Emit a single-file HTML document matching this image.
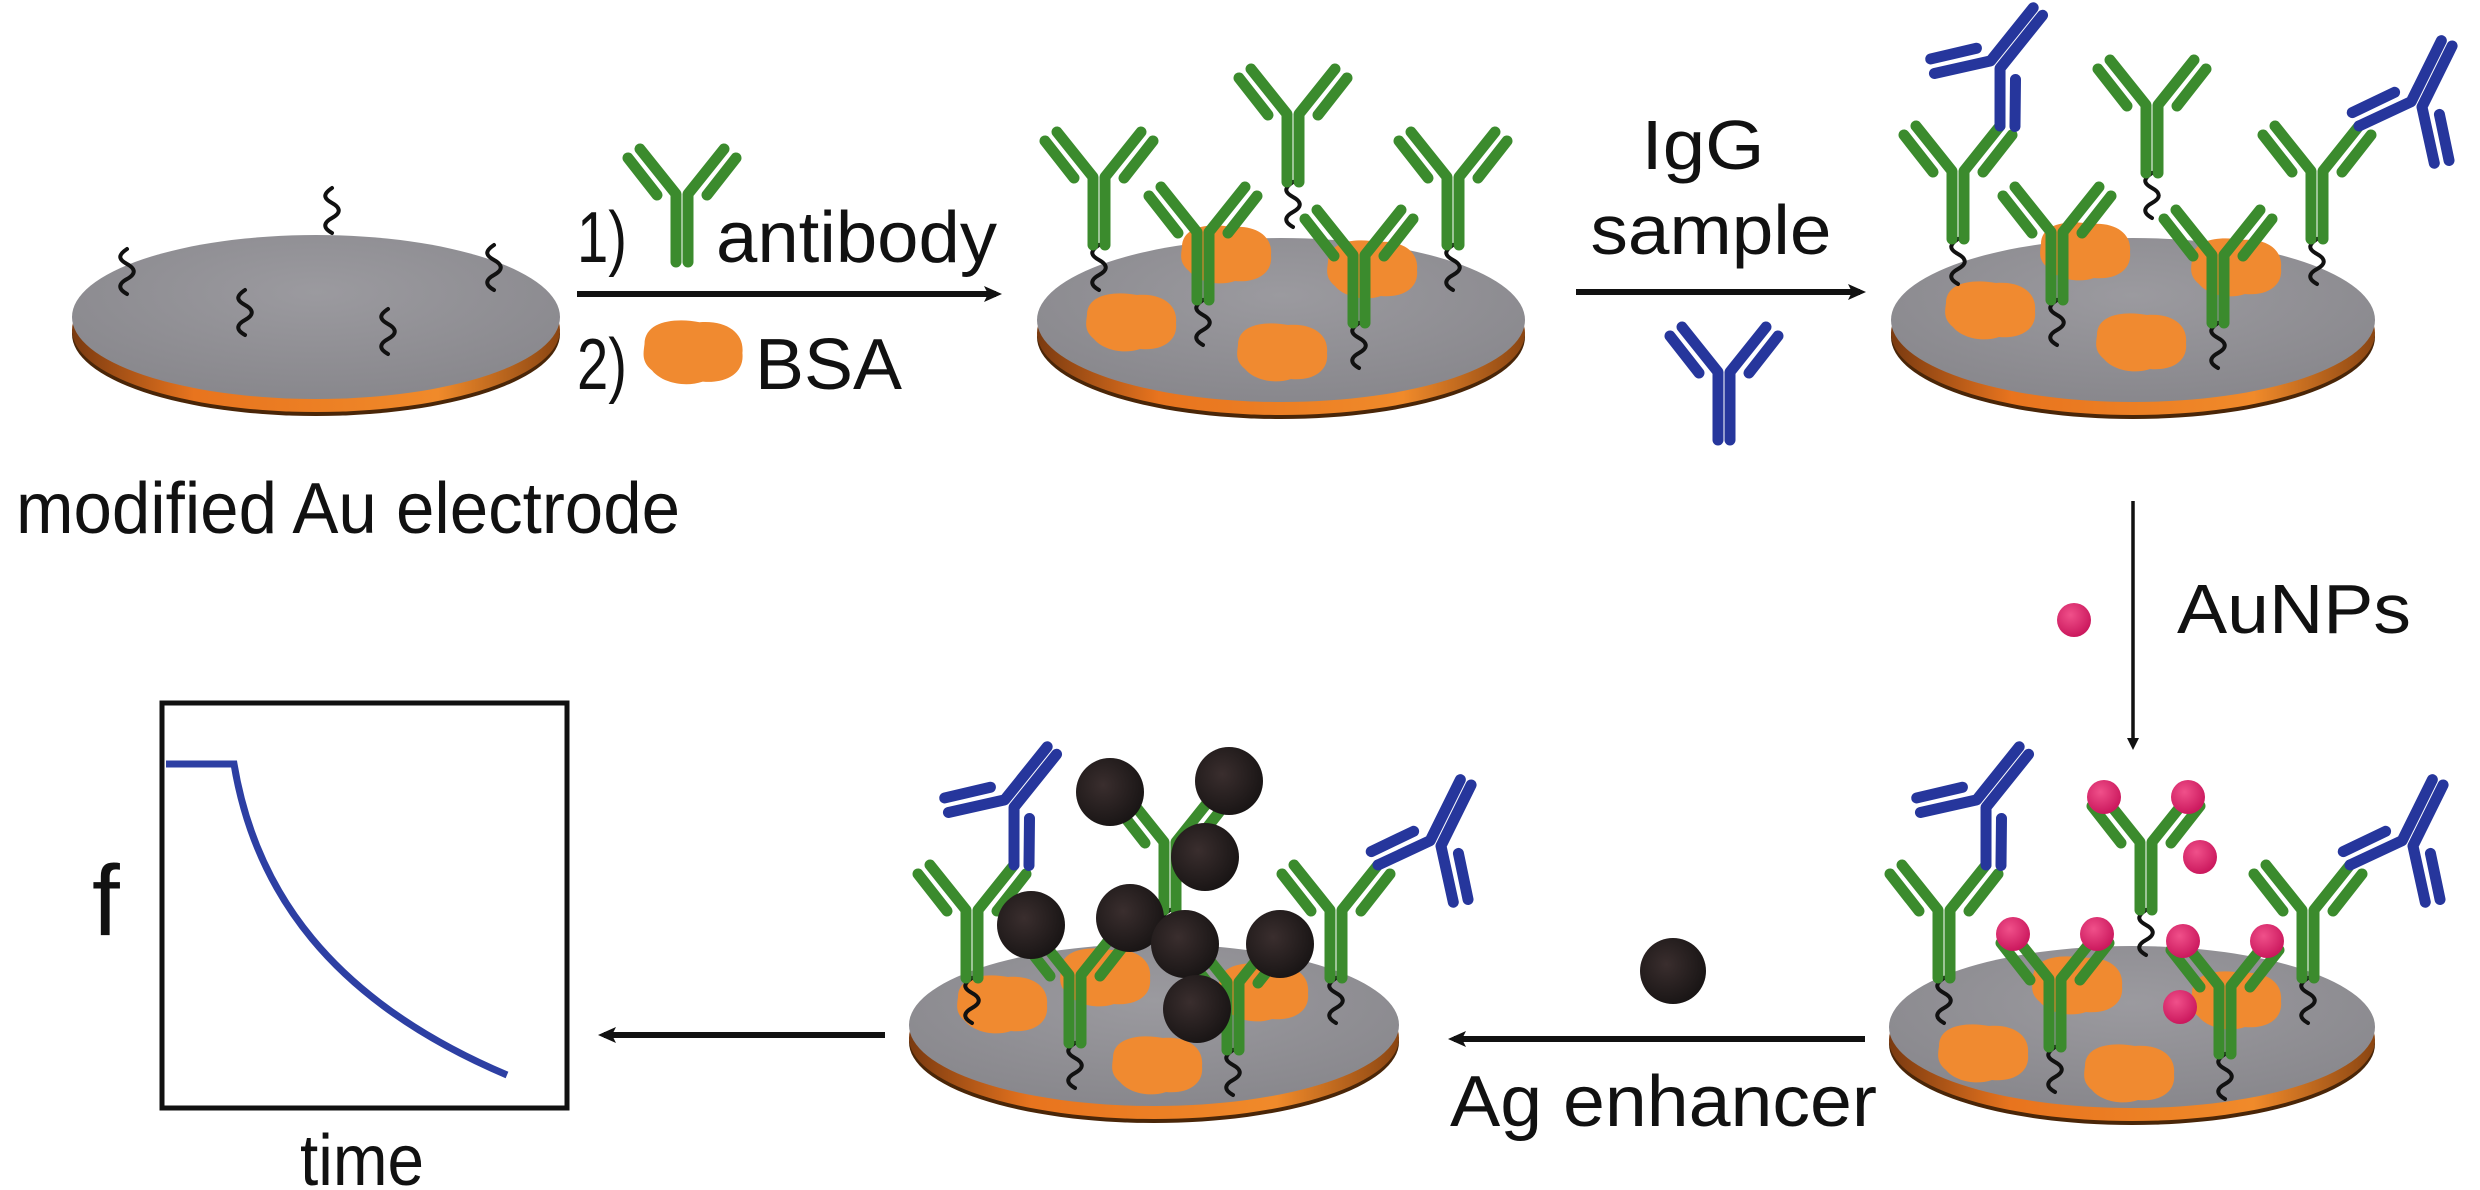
<!DOCTYPE html>
<html><head><meta charset="utf-8"><style>
html,body{margin:0;padding:0;background:#fff;}
svg{display:block;}
text{font-family:"Liberation Sans",Arial,sans-serif;fill:#111;}
</style></head><body>
<svg width="2480" height="1190" viewBox="0 0 2480 1190" xmlns="http://www.w3.org/2000/svg">
<defs>
<linearGradient id="side" x1="0" x2="1" y1="0" y2="0">
<stop offset="0" stop-color="#7a3a10"/><stop offset="0.25" stop-color="#e8741e"/><stop offset="0.75" stop-color="#f08a2a"/><stop offset="1" stop-color="#8a4512"/></linearGradient>
<radialGradient id="top" cx="0.5" cy="0.35" r="0.7"><stop offset="0" stop-color="#9b9a9f"/><stop offset="1" stop-color="#87868b"/></radialGradient>
<radialGradient id="pink" cx="0.4" cy="0.35" r="0.7"><stop offset="0" stop-color="#f0508a"/><stop offset="1" stop-color="#c8145a"/></radialGradient>
<radialGradient id="blk" cx="0.4" cy="0.4" r="0.7"><stop offset="0" stop-color="#3a2e2e"/><stop offset="1" stop-color="#151212"/></radialGradient>
<g id="abG" fill="none" stroke="#3b8b2d" stroke-width="11" stroke-linecap="round" stroke-linejoin="round">
<path d="M-6,0 L-6,-68 L-42,-113"/><path d="M6,0 L6,-68 L42,-113"/>
<path d="M-25,-67 L-54,-104"/><path d="M25,-67 L54,-104"/>
</g>
<g id="abB" fill="none" stroke="#26369c" stroke-width="11" stroke-linecap="round" stroke-linejoin="round">
<path d="M-6,0 L-6,-68 L-42,-113"/><path d="M6,0 L6,-68 L42,-113"/>
<path d="M-25,-67 L-54,-104"/><path d="M25,-67 L54,-104"/>
</g>
<path id="sq" d="M0,0 c-9,6 -9,10 0,15 c9,5 9,10 0,15 c-9,5 -9,10 0,15" fill="none" stroke="#111" stroke-width="4" stroke-linecap="round"/>
<path id="blob" d="M-45,-8 C-45,-30 -15,-32 5,-28 C30,-30 46,-18 44,0 C46,18 30,28 8,26 C-10,32 -30,26 -38,16 C-48,8 -46,0 -45,-8Z" fill="#f08a30"/>
<marker id="ah" markerWidth="18" markerHeight="16" refX="12" refY="8" orient="auto" markerUnits="userSpaceOnUse" viewBox="0 0 18 16"><path d="M0,0 L18,8 L0,16 L4,8Z" fill="#111"/></marker>
<marker id="ahs" markerWidth="12" markerHeight="12" refX="8" refY="6" orient="auto" markerUnits="userSpaceOnUse" viewBox="0 0 12 12"><path d="M0,0 L12,6 L0,12Z" fill="#111"/></marker>
</defs>

<!-- DISC 1 -->
<ellipse cx="316" cy="334" rx="244" ry="82" fill="#4a2608"/>
<ellipse cx="316" cy="330" rx="244" ry="82" fill="url(#side)"/>
<ellipse cx="316" cy="317" rx="244" ry="82" fill="url(#top)"/>
<use href="#sq" x="332" y="188"/><use href="#sq" x="127" y="249"/><use href="#sq" x="494" y="245"/><use href="#sq" x="245" y="290"/><use href="#sq" x="388" y="309"/>

<!-- arrow 1 + labels -->
<line x1="577" y1="294" x2="996" y2="294" stroke="#111" stroke-width="6" marker-end="url(#ah)"/>
<use href="#abG" transform="translate(682,262)"/>
<text x="577" y="262" font-size="72" textLength="50" lengthAdjust="spacingAndGlyphs">1)</text>
<text x="716" y="262" font-size="72" textLength="281" lengthAdjust="spacingAndGlyphs">antibody</text>
<text x="577" y="389" font-size="72" textLength="50" lengthAdjust="spacingAndGlyphs">2)</text>
<g transform="translate(694,353) scale(1.1,1.1)"><use href="#blob"/></g>
<text x="755" y="389" font-size="72" textLength="147" lengthAdjust="spacingAndGlyphs">BSA</text>
<text x="16" y="533" font-size="72" textLength="664" lengthAdjust="spacingAndGlyphs">modified Au electrode</text>

<!-- DISC 2 -->
<ellipse cx="1281" cy="337" rx="244" ry="82" fill="#4a2608"/>
<ellipse cx="1281" cy="333" rx="244" ry="82" fill="url(#side)"/>
<ellipse cx="1281" cy="320" rx="244" ry="82" fill="url(#top)"/>
<use href="#blob" x="1227" y="255"/><use href="#blob" x="1373" y="270"/><use href="#blob" x="1132" y="323"/><use href="#blob" x="1283" y="353"/>
<use href="#sq" x="1293" y="182"/><use href="#abG" x="1293" y="182"/>
<use href="#sq" x="1099" y="245"/><use href="#abG" x="1099" y="245"/>
<use href="#sq" x="1453" y="245"/><use href="#abG" x="1453" y="245"/>
<use href="#sq" x="1203" y="300"/><use href="#abG" x="1203" y="300"/>
<use href="#sq" x="1359" y="323"/><use href="#abG" x="1359" y="323"/>

<!-- arrow 2 -->
<text x="1703" y="169" font-size="70" text-anchor="middle" textLength="123" lengthAdjust="spacingAndGlyphs">IgG</text>
<text x="1711" y="254" font-size="70" text-anchor="middle" textLength="241" lengthAdjust="spacingAndGlyphs">sample</text>
<line x1="1576" y1="292" x2="1860" y2="292" stroke="#111" stroke-width="6" marker-end="url(#ah)"/>
<use href="#abB" x="1724" y="440"/>

<!-- DISC 3 -->
<ellipse cx="2133" cy="337" rx="242" ry="82" fill="#4a2608"/>
<ellipse cx="2133" cy="333" rx="242" ry="82" fill="url(#side)"/>
<ellipse cx="2133" cy="320" rx="242" ry="82" fill="url(#top)"/>
<use href="#blob" x="2086" y="252"/><use href="#blob" x="2237" y="268"/><use href="#blob" x="1991" y="311"/><use href="#blob" x="2142" y="343"/>
<use href="#sq" x="2152" y="173"/><use href="#abG" x="2152" y="173"/>
<use href="#sq" x="1958" y="239"/><use href="#abG" x="1958" y="239"/>
<use href="#sq" x="2317" y="239"/><use href="#abG" x="2317" y="239"/>
<use href="#sq" x="2057" y="300"/><use href="#abG" x="2057" y="300"/>
<use href="#sq" x="2218" y="323"/><use href="#abG" x="2218" y="323"/>
<g transform="translate(2000,126) rotate(218.7) translate(42,113)"><use href="#abB"/></g>
<g transform="translate(2359,126) rotate(206.3) translate(-42,113)"><use href="#abB"/></g>

<!-- down arrow -->
<line x1="2133" y1="501" x2="2133" y2="746" stroke="#111" stroke-width="3.5" marker-end="url(#ahs)"/>
<circle cx="2074" cy="620" r="17" fill="url(#pink)"/>
<text x="2177" y="633" font-size="70" textLength="234" lengthAdjust="spacingAndGlyphs">AuNPs</text>

<!-- DISC 4 -->
<ellipse cx="2132" cy="1044" rx="243" ry="81" fill="#4a2608"/>
<ellipse cx="2132" cy="1040" rx="243" ry="81" fill="url(#side)"/>
<ellipse cx="2132" cy="1027" rx="243" ry="81" fill="url(#top)"/>
<use href="#blob" x="2078" y="986"/><use href="#blob" x="2237" y="1001"/><use href="#blob" x="1984" y="1054"/><use href="#blob" x="2130" y="1074"/>
<use href="#sq" x="2146" y="910"/><use href="#abG" x="2146" y="910"/>
<use href="#sq" x="1944" y="978"/><use href="#abG" x="1944" y="978"/>
<use href="#sq" x="2308" y="978"/><use href="#abG" x="2308" y="978"/>
<use href="#sq" x="2055" y="1047"/><use href="#abG" x="2055" y="1047"/>
<use href="#sq" x="2225" y="1054"/><use href="#abG" x="2225" y="1054"/>
<g transform="translate(1986,865) rotate(218.7) translate(42,113)"><use href="#abB"/></g>
<g transform="translate(2350,865) rotate(206.3) translate(-42,113)"><use href="#abB"/></g>
<g fill="url(#pink)">
<circle cx="2104" cy="797" r="17"/><circle cx="2188" cy="797" r="17"/><circle cx="2200" cy="857" r="17"/>
<circle cx="2013" cy="934" r="17"/><circle cx="2097" cy="934" r="17"/>
<circle cx="2183" cy="941" r="17"/><circle cx="2267" cy="941" r="17"/><circle cx="2180" cy="1007" r="17"/>
</g>

<!-- arrow 4 -->
<circle cx="1673" cy="971" r="33" fill="url(#blk)"/>
<line x1="1865" y1="1039" x2="1454" y2="1039" stroke="#111" stroke-width="6" marker-end="url(#ah)"/>
<text x="1450" y="1126" font-size="72" textLength="427" lengthAdjust="spacingAndGlyphs">Ag enhancer</text>

<!-- DISC 5 -->
<ellipse cx="1154" cy="1042" rx="245" ry="81" fill="#4a2608"/>
<ellipse cx="1154" cy="1038" rx="245" ry="81" fill="url(#side)"/>
<ellipse cx="1154" cy="1025" rx="245" ry="81" fill="url(#top)"/>
<use href="#blob" x="1003" y="1005"/><use href="#blob" x="1106" y="978"/><use href="#blob" x="1264" y="993"/><use href="#blob" x="1158" y="1066"/>
<use href="#sq" x="1170" y="910"/><use href="#abG" x="1170" y="910"/>
<use href="#sq" x="972" y="978"/><use href="#abG" x="972" y="978"/>
<use href="#sq" x="1336" y="978"/><use href="#abG" x="1336" y="978"/>
<use href="#sq" x="1075" y="1043"/><use href="#abG" x="1075" y="1043"/>
<use href="#sq" x="1233" y="1050"/><use href="#abG" x="1233" y="1050"/>
<g transform="translate(1014,865) rotate(218.7) translate(42,113)"><use href="#abB"/></g>
<g transform="translate(1378,865) rotate(206.3) translate(-42,113)"><use href="#abB"/></g>
<g fill="url(#blk)">
<circle cx="1110" cy="792" r="34"/><circle cx="1229" cy="781" r="34"/><circle cx="1205" cy="857" r="34"/>
<circle cx="1031" cy="925" r="34"/><circle cx="1130" cy="918" r="34"/>
<circle cx="1185" cy="944" r="34"/><circle cx="1280" cy="944" r="34"/><circle cx="1197" cy="1009" r="34"/>
</g>

<!-- arrow 5 -->
<line x1="885" y1="1035" x2="604" y2="1035" stroke="#111" stroke-width="6" marker-end="url(#ah)"/>

<!-- graph -->
<rect x="162" y="703" width="405" height="405" fill="none" stroke="#111" stroke-width="5"/>
<path d="M166,764 L234,764 C255,890 330,1000 507,1075" fill="none" stroke="#2d3fa3" stroke-width="7"/>
<text x="92" y="935" font-size="100">f</text>
<text x="300" y="1185" font-size="72" textLength="124" lengthAdjust="spacingAndGlyphs">time</text>
</svg>
</body></html>
